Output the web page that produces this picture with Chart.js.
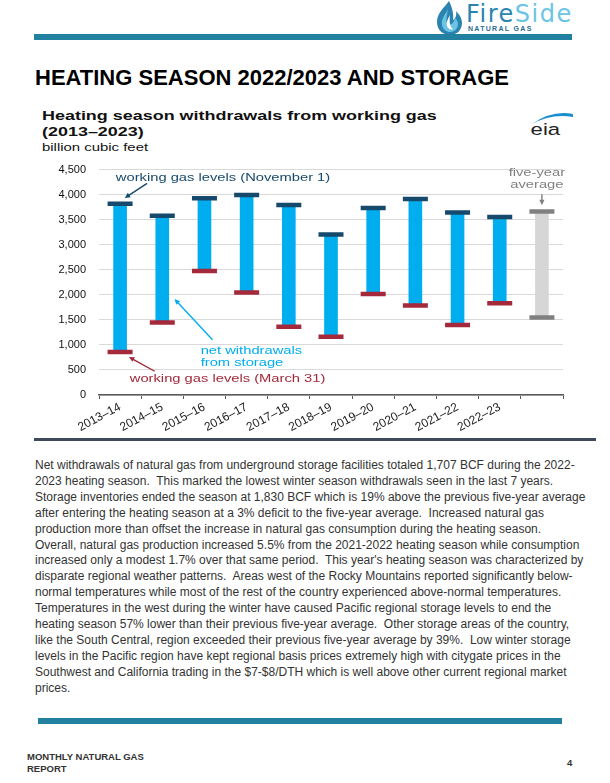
<!DOCTYPE html>
<html>
<head>
<meta charset="utf-8">
<script src="https://cdn.jsdelivr.net/npm/chart.js@4"></script>
<style>
  html, body { margin: 0; padding: 0; background: #fff; }
  body { width: 610px; height: 783px; position: relative; overflow: hidden; font-family: "Liberation Sans", Arial, sans-serif; }
  .abs { position: absolute; }
  #topBar { left: 34px; top: 34px; width: 538px; height: 6px; background: #2280a0; }
  #brand { left: 466px; top: 0px; font-family: "DejaVu Sans", sans-serif; font-size: 24px; letter-spacing: 1.5px; line-height: 28px; }
  #brand .fire { color: #2b84b0; }
  #brand .side { color: #6cc4e4; }
  #brandSub { left: 468px; top: 25px; font-size: 7px; font-weight: bold; letter-spacing: 1.3px; color: #2b6d8f; line-height: 8px; }
  #pageTitle { left: 35px; top: 67px; font-size: 22px; font-weight: bold; line-height: 22px; color: #000; white-space: nowrap; }
  #chartTitle { left: 42px; top: 108px; font-size: 13px; font-weight: bold; line-height: 15.5px; color: #111; transform: scaleX(1.38); transform-origin: 0 0; white-space: nowrap; }
  #unit { left: 42px; top: 141px; font-size: 10.5px; line-height: 12px; color: #111; transform: scaleX(1.42); transform-origin: 0 0; white-space: nowrap; }
  #chartBox { left: 40px; top: 150px; width: 545px; height: 290px; }
  #divider { left: 34px; top: 438px; width: 562px; height: 3px; background: #3d4a5c; }
  #story { left: 35px; top: 458px; font-size: 12px; line-height: 15.9px; color: #333; white-space: nowrap; }
  #bottomBar { left: 38px; top: 718px; width: 524px; height: 6px; background: #2280a0; }
  #footer { left: 27px; top: 751px; font-size: 9.5px; font-weight: bold; line-height: 11.5px; color: #333; }
  #pageNo { left: 567px; top: 757px; font-size: 9.5px; font-weight: bold; color: #333; }
</style>
</head>
<body>

<svg class="abs" style="left:434px;top:0px" width="32" height="36" viewBox="0 0 32 36">
  <path d="M15 1 C 10 8, 3 13, 3 22 C 3 30, 9 35, 16 35 C 23 35, 28 30, 28 23 C 28 18, 25 14, 22 11 C 23 16, 21 19, 19 20 C 20 14, 18 7, 15 1 Z" fill="#2b84b0"/>
  <path d="M14 9 C 11 15, 7 19, 8 25 C 9 30, 13 32, 16 32 C 20 32, 24 29, 24 24 C 24 21, 22 19, 21 18 C 20 23, 17 25, 14 25 C 11 22, 13 15, 14 9 Z" fill="#6cc4e4"/>
  <path d="M16 15 C 14 19, 12 22, 13 26 C 14 29, 17 30, 19 29 C 16 27, 15 22, 16 15 Z" fill="#fff"/>
</svg>
<div id="brand" class="abs"><span class="fire">Fire</span><span class="side">Side</span></div>
<div id="brandSub" class="abs">NATURAL GAS</div>
<div id="topBar" class="abs"></div>

<div id="pageTitle" class="abs">HEATING SEASON 2022/2023 AND STORAGE</div>
<div id="chartTitle" class="abs">Heating season withdrawals from working gas<br>(2013–2023)</div>
<div id="unit" class="abs">billion cubic feet</div>

<svg class="abs" style="left:528px;top:110px" width="48" height="30" viewBox="0 0 48 30">
  <path d="M4 14 Q 24 0, 45 4 L 45 7 Q 24 3, 4 14 Z" fill="#1a8fd0"/>
  <text x="2" y="25" font-family="Liberation Sans, Arial, sans-serif" font-size="17" fill="#222" transform="scale(1.3,1)">eia</text>
</svg>

<div id="chartBox" class="abs"><canvas id="storageChart"></canvas></div>

<div id="divider" class="abs"></div>

<div id="story" class="abs">
Net withdrawals of natural gas from underground storage facilities totaled 1,707 BCF during the 2022-<br>
2023 heating season.&nbsp; This marked the lowest winter season withdrawals seen in the last 7 years.<br>
Storage inventories ended the season at 1,830 BCF which is 19% above the previous five-year average<br>
after entering the heating season at a 3% deficit to the five-year average.&nbsp; Increased natural gas<br>
production more than offset the increase in natural gas consumption during the heating season.<br>
Overall, natural gas production increased 5.5% from the 2021-2022 heating season while consumption<br>
increased only a modest 1.7% over that same period.&nbsp; This year's heating season was characterized by<br>
disparate regional weather patterns.&nbsp; Areas west of the Rocky Mountains reported significantly below-<br>
normal temperatures while most of the rest of the country experienced above-normal temperatures.<br>
Temperatures in the west during the winter have caused Pacific regional storage levels to end the<br>
heating season 57% lower than their previous five-year average.&nbsp; Other storage areas of the country,<br>
like the South Central, region exceeded their previous five-year average by 39%.&nbsp; Low winter storage<br>
levels in the Pacific region have kept regional basis prices extremely high with citygate prices in the<br>
Southwest and California trading in the $7-$8/DTH which is well above other current regional market<br>
prices.
</div>

<div id="bottomBar" class="abs"></div>
<div id="footer" class="abs">MONTHLY NATURAL GAS<br>REPORT</div>
<div id="pageNo" class="abs">4</div>

<script>
// 데이터 (billion cubic feet)
const seasons = ['2013–14', '2014–15', '2015–16', '2016–17', '2017–18', '2018–19', '2019–20', '2020–21', '2021–22', '2022–23'];
const novLevels = [3820, 3580, 3930, 3995, 3795, 3205, 3735, 3915, 3645, 3555]; // November 1
const marLevels = [857, 1448, 2475, 2046, 1364, 1164, 2014, 1787, 1398, 1830];  // March 31
const fiveYearNov = 3665;
const fiveYearMar = 1546;
const yTicks = [0, 500, 1000, 1500, 2000, 2500, 3000, 3500, 4000, 4500];

const BLUE = '#00adef';
const NAVY = '#16496b';
const RED = '#a3293b';
const GREY_BAR = '#d6d6d6';
const GREY_CAP = '#808080';

// 5년 평균은 라벨 없는 마지막 카테고리
const labels = [...seasons, ''];
const tops = [...novLevels, fiveYearNov];
const bottoms = [...marLevels, fiveYearMar];
const ranges = labels.map((_, i) => [bottoms[i], tops[i]]);
const isAvg = (i) => i === labels.length - 1;

/**
 * 텍스트/화살표 주석 플러그인 (축 좌표 기준)
 */
const notesPlugin = {
    id: 'notes',
    afterDatasetsDraw(chart, args, opts) {
        const { ctx, scales: { x, y } } = chart;
        ctx.save();
        (opts.arrows || []).forEach(a => {
            const x1 = x.getPixelForValue(a.from[0]), y1 = y.getPixelForValue(a.from[1]);
            const x2 = x.getPixelForValue(a.to[0]), y2 = y.getPixelForValue(a.to[1]);
            const ang = Math.atan2(y2 - y1, x2 - x1);
            const head = 6;
            ctx.strokeStyle = a.color;
            ctx.fillStyle = a.color;
            ctx.lineWidth = 1.4;
            ctx.beginPath();
            ctx.moveTo(x1, y1);
            ctx.lineTo(x2 - Math.cos(ang) * head * 0.8, y2 - Math.sin(ang) * head * 0.8);
            ctx.stroke();
            ctx.beginPath();
            ctx.moveTo(x2, y2);
            ctx.lineTo(x2 - head * Math.cos(ang - 0.45), y2 - head * Math.sin(ang - 0.45));
            ctx.lineTo(x2 - head * Math.cos(ang + 0.45), y2 - head * Math.sin(ang + 0.45));
            ctx.closePath();
            ctx.fill();
        });
        (opts.texts || []).forEach(t => {
            const px = x.getPixelForValue(t.x), py = y.getPixelForValue(t.y);
            ctx.fillStyle = t.color;
            ctx.font = '11.5px "Liberation Sans", Arial, sans-serif';
            ctx.textAlign = t.align;
            ctx.textBaseline = 'middle';
            t.lines.forEach((line, i) => {
                ctx.save();
                ctx.translate(px, py + i * 11.5);
                ctx.scale(1.28, 1);
                ctx.fillText(line, 0, 0);
                ctx.restore();
            });
        });
        ctx.restore();
    }
};

Chart.defaults.font.family = '"Liberation Sans", Arial, sans-serif';

new Chart(document.getElementById('storageChart'), {
    type: 'bar',
    data: {
        labels: labels,
        datasets: [
            {
                label: 'net withdrawals',
                data: ranges,
                backgroundColor: labels.map((_, i) => isAvg(i) ? GREY_BAR : BLUE),
                barThickness: 13,
                order: 2
            },
            {
                type: 'line',
                label: 'November 1',
                data: tops,
                showLine: false,
                pointStyle: 'line',
                pointRadius: 12.5,
                pointBorderWidth: 4.5,
                pointBorderColor: labels.map((_, i) => isAvg(i) ? GREY_CAP : NAVY),
                order: 1
            },
            {
                type: 'line',
                label: 'March 31',
                data: bottoms,
                showLine: false,
                pointStyle: 'line',
                pointRadius: 12.5,
                pointBorderWidth: 4.5,
                pointBorderColor: labels.map((_, i) => isAvg(i) ? GREY_CAP : RED),
                order: 1
            }
        ]
    },
    options: {
        responsive: true,
        maintainAspectRatio: false,
        animation: false,
        layout: { padding: { top: 14, right: 22, left: 0, bottom: 0 } },
        plugins: {
            legend: { display: false },
            tooltip: { enabled: false },
            notes: {
                texts: [
                    { lines: ['working gas levels (November 1)'], x: -0.1, y: 4327, color: NAVY, align: 'left' },
                    { lines: ['net withdrawals', 'from storage'], x: 1.91, y: 877, color: BLUE, align: 'left' },
                    { lines: ['working gas levels (March 31)'], x: 0.23, y: 318, color: RED, align: 'left' },
                    { lines: ['five-year', 'average'], x: 9.88, y: 4430, color: GREY_CAP, align: 'center' }
                ],
                arrows: [
                    { from: [0.64, 4224], to: [0.11, 3935], color: NAVY },
                    { from: [2.19, 1105], to: [1.29, 1916], color: BLUE },
                    { from: [0.82, 474], to: [0.21, 760], color: RED },
                    { from: [10, 4010], to: [10, 3790], color: GREY_CAP }
                ]
            }
        },
        scales: {
            x: {
                offset: true,
                grid: {
                    offset: true,
                    drawOnChartArea: false,
                    drawTicks: true,
                    tickLength: 4,
                    color: '#595959'
                },
                border: { display: true, color: '#595959', width: 1.5 },
                ticks: {
                    autoSkip: false,
                    minRotation: 28,
                    maxRotation: 28,
                    padding: 1,
                    color: '#222',
                    font: { size: 12 }
                },
                afterFit: (s) => { s.height = 45; }
            },
            y: {
                min: 0,
                max: 4500,
                afterBuildTicks: (s) => { s.ticks = yTicks.map(v => ({ value: v })); },
                grid: { color: '#d9d9d9', lineWidth: 1, drawTicks: false },
                border: { display: false },
                ticks: {
                    padding: 13,
                    color: '#111',
                    font: { size: 11 },
                    callback: (v) => v.toLocaleString('en-US')
                },
                afterFit: (s) => { s.width = 59; }
            }
        }
    },
    plugins: [notesPlugin]
});
</script>
</body>
</html>
